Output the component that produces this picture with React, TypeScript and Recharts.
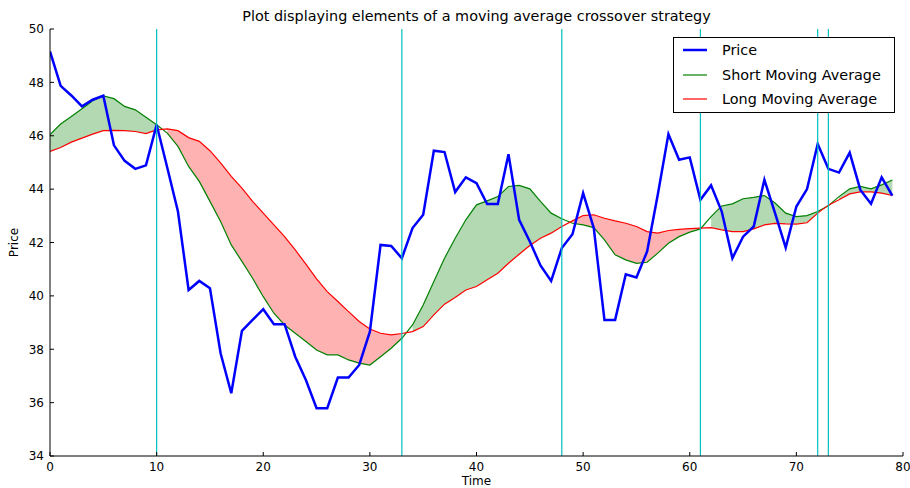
import React from "react";
import {
  ComposedChart,
  Line,
  Area,
  XAxis,
  YAxis,
  ReferenceLine,
  Legend,
} from "recharts";

// Closing price per time step
const price = [
  49.16, 47.87, 47.51, 47.1, 47.35, 47.5, 45.64, 45.06, 44.76, 44.89,
  46.41, 44.8, 43.16, 40.22, 40.56, 40.29, 37.85, 36.35, 38.69, 39.1,
  39.5, 38.94, 38.94, 37.72, 36.85, 35.79, 35.79, 36.94, 36.94, 37.41,
  38.66, 41.91, 41.87, 41.41, 42.54, 43.04, 45.44, 45.39, 43.89, 44.44,
  44.22, 43.44, 43.44, 45.31, 42.85, 42.04, 41.14, 40.56, 41.79, 42.31,
  43.85, 42.54, 39.1, 39.1, 40.81, 40.69, 41.66, 43.79, 46.06, 45.1,
  45.19, 43.6, 44.14, 43.16, 41.41, 42.22, 42.6, 44.35, 43.1, 41.81,
  43.35, 44.0, 45.69, 44.76, 44.62, 45.37, 43.97, 43.45, 44.44, 43.76,
];

// Short moving average
const shortMA = [
  46.04, 46.44, 46.72, 47.01, 47.31, 47.49, 47.39, 47.1, 46.97, 46.69,
  46.41, 46.1, 45.6, 44.85, 44.29, 43.54, 42.79, 41.91, 41.29, 40.66,
  39.97, 39.35, 38.91, 38.6, 38.29, 37.97, 37.79, 37.79, 37.6, 37.48,
  37.41, 37.72, 38.04, 38.41, 38.91, 39.66, 40.54, 41.41, 42.16, 42.85,
  43.41, 43.56, 43.72, 44.1, 44.14, 44.01, 43.54, 43.1, 42.89, 42.72,
  42.66, 42.56, 42.1, 41.54, 41.35, 41.22, 41.26, 41.6, 41.97, 42.22,
  42.39, 42.51, 42.97, 43.37, 43.45, 43.64, 43.69, 43.76, 43.48, 43.1,
  42.97, 43.01, 43.16, 43.38, 43.72, 44.01, 44.1, 44.01, 44.16, 44.34,
];

// Long moving average
const longMA = [
  45.41, 45.56, 45.76, 45.91, 46.06, 46.19, 46.2, 46.19, 46.16, 46.08,
  46.22, 46.26, 46.19, 45.93, 45.79, 45.44, 44.98, 44.48, 44.04, 43.54,
  43.1, 42.66, 42.22, 41.72, 41.19, 40.64, 40.16, 39.79, 39.41, 39.04,
  38.76, 38.6, 38.54, 38.59, 38.66, 38.85, 39.29, 39.69, 39.94, 40.22,
  40.35, 40.6, 40.85, 41.22, 41.56, 41.89, 42.16, 42.35, 42.6, 42.81,
  43.01, 43.04, 42.91, 42.81, 42.72, 42.6, 42.41, 42.35, 42.45, 42.49,
  42.52, 42.54, 42.56, 42.47, 42.41, 42.41, 42.51, 42.66, 42.72, 42.7,
  42.69, 42.74, 43.1, 43.4, 43.6, 43.82, 43.9, 43.9, 43.85, 43.76,
];

// Time steps marked as crossover signals
const crossovers = [10, 33, 48, 61, 72, 73];

const xTicks = [0, 10, 20, 30, 40, 50, 60, 70, 80];
const yTicks = [34, 36, 38, 40, 42, 44, 46, 48, 50];

const FONT = "'DejaVu Sans', 'Bitstream Vera Sans', sans-serif";

const rows = price.map((p, i) => {
  const s = shortMA[i];
  const l = longMA[i];
  return {
    t: i,
    price: p,
    short: s,
    long: l,
    above: s >= l ? [l, s] : null,
    below: s < l ? [s, l] : null,
  };
});

const legendItems = [
  { label: "Price", color: "#0000ff", width: 2.5 },
  { label: "Short Moving Average", color: "#008000", width: 1.2 },
  { label: "Long Moving Average", color: "#ff0000", width: 1.2 },
];

function LegendBox() {
  return (
    <div
      style={{
        border: "1px solid #000",
        background: "#fff",
        width: 222,
        height: 76,
        boxSizing: "border-box",
        padding: "0 0 0 9px",
        fontFamily: FONT,
        fontSize: 14.4,
        color: "#000",
      }}
    >
      {legendItems.map((it) => (
        <div
          key={it.label}
          style={{ display: "flex", alignItems: "center", height: 24.5 }}
        >
          <svg width={24} height={10} style={{ marginRight: 15 }}>
            <line
              x1={0}
              y1={5}
              x2={24}
              y2={5}
              stroke={it.color}
              strokeWidth={it.width}
            />
          </svg>
          <span>{it.label}</span>
        </div>
      ))}
    </div>
  );
}

const tickStyle = { fontFamily: FONT, fontSize: 12, fill: "#000" };

export default function App() {
  return (
    <div
      style={{
        position: "absolute",
        left: 0,
        top: 0,
        width: 910,
        height: 488,
        background: "#fff",
        overflow: "hidden",
      }}
    >
      <div
        style={{
          position: "absolute",
          left: 50,
          width: 853,
          top: 8,
          textAlign: "center",
          fontFamily: FONT,
          fontSize: 14.4,
          color: "#000",
          zIndex: 2,
        }}
      >
        Plot displaying elements of a moving average crossover strategy
      </div>
      <ComposedChart
        width={910}
        height={488}
        data={rows}
        margin={{ top: 29, right: 7, bottom: 2, left: 10 }}
      >
        <XAxis
          dataKey="t"
          type="number"
          domain={[0, 80]}
          ticks={xTicks}
          allowDataOverflow
          height={30}
          tickSize={-4}
          tickMargin={10}
          tick={tickStyle}
          stroke="#000"
          axisLine={{ stroke: "#000", strokeWidth: 1 }}
          tickLine={{ stroke: "#000" }}
          label={{
            value: "Time",
            position: "insideBottom",
            offset: 1,
            style: { fontFamily: FONT, fontSize: 12, fill: "#000" },
          }}
        />
        <XAxis
          xAxisId="top"
          orientation="top"
          dataKey="t"
          type="number"
          domain={[0, 80]}
          ticks={xTicks}
          allowDataOverflow
          height={0}
          tickSize={-4}
          tick={false}
          axisLine={{ stroke: "#000", strokeWidth: 1 }}
          tickLine={{ stroke: "#000" }}
        />
        <YAxis
          type="number"
          domain={[34, 50]}
          ticks={yTicks}
          allowDataOverflow
          width={40}
          tickSize={-4}
          tickMargin={10}
          tick={tickStyle}
          axisLine={{ stroke: "#000", strokeWidth: 1 }}
          tickLine={{ stroke: "#000" }}
          label={{
            value: "Price",
            angle: -90,
            position: "insideLeft",
            offset: 4,
            style: {
              fontFamily: FONT,
              fontSize: 12,
              fill: "#000",
              textAnchor: "middle",
            },
          }}
        />
        <YAxis
          yAxisId="right"
          orientation="right"
          type="number"
          domain={[34, 50]}
          ticks={yTicks}
          allowDataOverflow
          width={0}
          tickSize={-4}
          tick={false}
          axisLine={{ stroke: "#000", strokeWidth: 1 }}
          tickLine={{ stroke: "#000" }}
        />
        <Area
          dataKey="above"
          type="linear"
          stroke="none"
          fill="#008000"
          fillOpacity={0.3}
          isAnimationActive={false}
          connectNulls={false}
          dot={false}
          activeDot={false}
          legendType="none"
        />
        <Area
          dataKey="below"
          type="linear"
          stroke="none"
          fill="#ff0000"
          fillOpacity={0.3}
          isAnimationActive={false}
          connectNulls={false}
          dot={false}
          activeDot={false}
          legendType="none"
        />
        <Line
          dataKey="short"
          type="linear"
          stroke="#008000"
          strokeWidth={1.2}
          dot={false}
          activeDot={false}
          isAnimationActive={false}
        />
        <Line
          dataKey="long"
          type="linear"
          stroke="#ff0000"
          strokeWidth={1.2}
          dot={false}
          activeDot={false}
          isAnimationActive={false}
        />
        <Line
          dataKey="price"
          type="linear"
          stroke="#0000ff"
          strokeWidth={2.5}
          dot={false}
          activeDot={false}
          isAnimationActive={false}
        />
        {crossovers.map((c) => (
          <ReferenceLine
            key={c}
            x={c}
            stroke="#00bfbf"
            strokeWidth={1.2}
            ifOverflow="visible"
          />
        ))}
        <Legend
          layout="vertical"
          align="center"
          verticalAlign="middle"
          content={() => <LegendBox />}
          wrapperStyle={{ left: 673, top: 37, width: 222, height: 76 }}
        />
      </ComposedChart>
    </div>
  );
}
